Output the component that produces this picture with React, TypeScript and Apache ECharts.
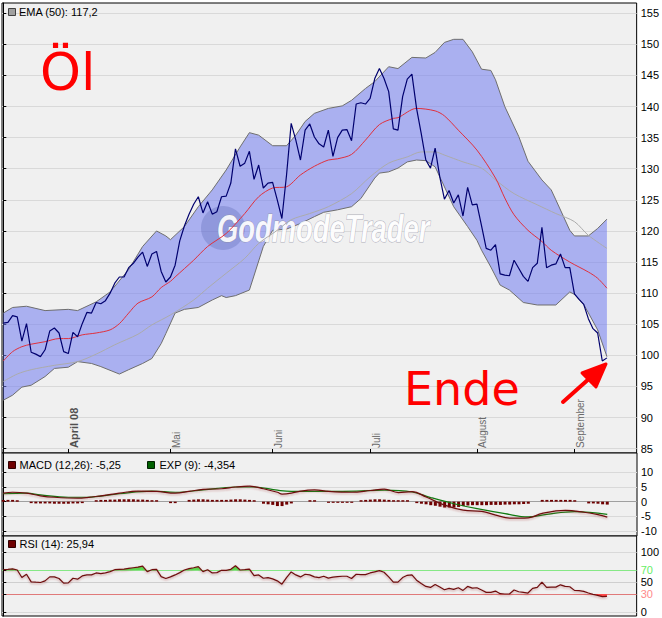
import React, { useEffect, useRef } from 'react';
import * as echarts from 'echarts';

// ---- data ----
const closeValues = [
  105.2, 105.3, 106.4, 106.2, 102.3, 105.1, 100.5, 100.2, 99.8, 100.9,
  103.9, 104.4, 103.6, 100.6, 100.3, 103.7, 103.0, 105.1, 106.9, 106.8,
  108.5, 108.3, 108.8, 110.0, 111.6, 112.6, 112.6, 114.1, 114.8, 115.8,
  116.6, 114.3, 116.3, 116.7, 113.5, 111.8, 112.6, 114.5, 118.4, 120.8,
  122.7, 124.3, 125.5, 122.9, 124.7, 122.7, 123.1, 125.5, 125.6, 127.7,
  133.2, 130.4, 130.9, 132.8, 128.3, 130.6, 126.9, 127.7, 127.8, 125.0,
  122.0, 129.0, 137.3, 134.6, 131.4, 136.2, 137.2, 135.1, 134.0, 133.5,
  136.2, 132.0, 135.0, 136.2, 136.3, 134.5, 140.4, 140.6, 140.4, 141.3,
  144.5, 146.1, 144.5, 142.4, 136.4, 136.2, 141.6, 144.4, 145.2, 139.7,
  135.7, 131.4, 130.1, 133.3, 128.7, 125.1, 126.5, 124.5, 125.8, 122.4,
  127.0, 124.2, 124.3, 120.8, 117.2, 116.9, 117.8, 113.1, 112.9, 112.8,
  115.3, 114.0, 112.7, 111.9, 114.1, 114.8, 120.6, 114.1, 114.5, 114.7,
  116.3, 114.1, 114.1, 109.9, 109.0, 108.2, 105.9, 104.3, 103.6, 99.1,
  99.6,
];

const upperBand = [
  [0, 106.8], [2, 107.7], [5, 107.9], [9, 107.2], [14, 107.4], [16, 107.2], [20, 108.6], [23, 110.2],
  [27, 113.8], [30, 117.5], [33, 120.0], [35, 119.2], [36, 118.6], [39, 120.7], [42, 123.9], [45, 126.6],
  [48, 129.8], [51, 133.5], [53, 135.8], [55, 135.4], [58, 133.7], [61, 133.7], [63, 135.4], [65, 137.6],
  [67, 138.9], [70, 139.7], [73, 140.1], [75, 141.0], [78, 142.9], [80, 144.0], [83, 146.4], [85, 146.1],
  [88, 147.9], [91, 147.8], [93, 148.7], [95, 150.3], [97, 150.8], [99, 150.8], [101, 148.8], [103, 146.0],
  [105, 145.8], [106, 144.3], [108, 140.0], [111, 135.2], [113, 131.2], [116, 128.2], [118, 126.6], [119, 125.0],
  [122, 120.1], [123, 119.2], [126, 119.2], [128, 120.4], [130, 121.9],
];

const lowerBand = [
  [0, 92.8], [2, 93.6], [4, 94.9], [6, 95.2], [9, 96.6], [11, 97.9], [14, 98.1], [16, 99.0], [19, 98.7],
  [21, 98.2], [25, 97.0], [27, 97.7], [30, 98.7], [32, 99.5], [34, 101.9], [35, 103.5], [37, 106.8],
  [39, 107.4], [42, 107.7], [45, 108.9], [47, 109.6], [48, 109.3], [50, 109.6], [53, 110.5], [56, 117.5],
  [58, 120.1], [61, 120.3], [64, 121.2], [67, 122.3], [69, 123.0], [72, 123.4], [75, 123.9], [77, 125.2],
  [80, 128.5], [81, 129.3], [83, 129.5], [85, 130.1], [87, 131.1], [89, 131.4], [91, 131.3], [93, 130.3],
  [94, 128.7], [97, 123.9], [100, 120.7], [102, 118.5], [103, 116.9], [105, 114.2], [107, 111.3], [109, 110.5],
  [112, 108.5], [115, 108.1], [119, 108.1], [122, 110.2], [123, 109.8], [125, 108.2], [128, 104.1], [130, 99.8],
];

const middleLine = [
  [0, 99.1], [2, 100.6], [4, 101.4], [6, 101.8], [9, 102.2], [12, 102.7], [14, 102.7], [17, 103.3],
  [20, 103.6], [23, 104.1], [25, 105.1], [27, 106.8], [29, 108.4], [32, 109.4], [34, 110.9], [36, 111.9],
  [37, 112.6], [41, 115.3], [44, 117.5], [48, 119.6], [52, 122.8], [55, 125.5], [58, 126.9], [61, 127.1],
  [64, 129.0], [67, 130.4], [70, 131.4], [72, 131.6], [75, 132.3], [78, 134.6], [81, 137.1], [84, 138.1],
  [85, 138.2], [89, 139.7], [93, 139.3], [95, 138.5], [98, 136.2], [102, 133.0], [106, 128.5], [108, 125.3],
  [110, 122.6], [113, 120.1], [116, 118.3], [118, 116.9], [122, 115.0], [126, 113.4], [128, 112.4], [130, 110.8],
];

const ema50Line = [
  [0, 95.8], [3, 97.0], [6, 97.7], [11, 98.4], [16, 99.0], [20, 100.2], [24, 101.7], [29, 103.4],
  [32, 104.9], [36, 106.5], [41, 108.9], [44, 110.8], [48, 113.2], [52, 115.6], [55, 118.0], [59, 120.1],
  [62, 121.8], [66, 122.8], [70, 123.9], [75, 126.0], [79, 128.7], [83, 130.9], [87, 131.9], [90, 132.7],
  [93, 132.7], [95, 132.2], [99, 131.1], [103, 130.1], [106, 128.2], [110, 126.0], [115, 124.2], [119, 122.8],
  [123, 121.5], [126, 119.3], [130, 117.2],
];

const macdLine = [
  [0, 2.9], [2, 3.2], [5, 2.9], [8, 2.0], [11, 1.5], [16, 1.2], [18, 1.4], [21, 2.0], [25, 2.9], [29, 3.6],
  [33, 3.5], [37, 2.9], [40, 3.5], [43, 4.2], [47, 4.4], [50, 5.0], [53, 5.3], [56, 4.4], [59, 3.2], [60, 2.6],
  [62, 2.9], [64, 3.6], [67, 4.0], [70, 3.5], [75, 3.2], [79, 3.8], [82, 4.3], [85, 3.1], [88, 3.4], [91, 1.6],
  [95, -1.2], [99, -2.9], [103, -3.3], [106, -4.6], [109, -5.6], [113, -5.5], [116, -4.0], [121, -3.0],
  [125, -3.6], [128, -4.4], [130, -5.25],
];

const signalLine = [
  [0, 2.7], [5, 2.9], [8, 2.3], [14, 1.5], [18, 1.5], [25, 2.7], [32, 3.6], [37, 3.2], [43, 4.0], [50, 5.0],
  [54, 5.0], [59, 3.9], [62, 3.5], [70, 3.5], [76, 3.6], [82, 3.9], [88, 3.3], [92, 1.4], [97, -0.7],
  [102, -2.4], [108, -4.1], [113, -5.2], [117, -4.3], [123, -3.4], [130, -4.354],
];

const macdHist = [
  0.6, 0.6, 0.6, 0.5, 0, 0,
  -0.5, -0.6, -0.6, -0.6, -0.6, -0.7, -0.7, -0.7, -0.7, -0.6, -0.6, -0.5,
  0, 0,
  0.5, 0.6, 0.6, 0.7, 0.7, 0.8, 0.8, 0.8, 0.8, 0.7, 0.7, 0.6, 0.5, 0.5,
  0, 0, -0.5, -0.5, 0, 0,
  0.6, 0.7, 0.8, 0.8, 0.7, 0.6, 0.6, 0.6, 0.6, 0.7, 0.8, 0.8, 0.7, 0.6, 0.5,
  0,
  -0.7, -0.9, -1.1, -1.5, -1.5, -1.0, -0.6,
  0, 0, 0, 0.5, 0.5, 0, 0,
  -0.4, -0.4, -0.4, -0.4, -0.4, -0.4,
  0,
  0.5, 0.6, 0.7, 0.8, 0.8, 0.7, 0.6, 0.5, 0.5, 0.5, 0.5,
  0,
  -0.5, -0.7, -0.9, -1.2, -1.4, -1.7, -2.0, -2.0, -2.0, -1.8, -1.5, -1.3,
  -1.2, -1.2, -1.2, -1.2, -1.1, -1.1, -1.1, -1.0, -1.0, -0.9, -0.9, -0.8, -0.7,
  0, 0,
  0.6, 0.6, 0.6, 0.6, 0.6, 0.6, 0.6, 0.5,
  0, 0,
  -0.6, -0.6, -0.7, -0.9, -1.0,
];

const rsiValues = [
  70.5, 71, 72, 70, 57.4, 62.9, 50.3, 49.7, 49.2, 51.9,
  58.5, 58.5, 55.8, 48.1, 48.6, 56.3, 54.7, 60.1, 61.8, 61.8,
  65.1, 64, 65.1, 67.3, 70.5, 71.1, 71.6, 72.7, 73.8, 74.9,
  76.6, 67.3, 70.5, 71.1, 59, 55.8, 58.5, 61.8, 65.6, 70,
  72.2, 73.8, 75.5, 67.3, 70.5, 65.1, 65.6, 69.5, 69.5, 71.1,
  77.1, 70, 70.5, 71.6, 60.7, 61.8, 56.3, 57.4, 55.2, 51.9,
  46.4, 57.4, 66.7, 61.8, 58.5, 62.9, 61.8, 58.5, 57.4, 59.6,
  56.5, 58, 59, 59.6, 59.6, 55.8, 62.9, 62.3, 62.3, 65.1,
  67, 68.9, 66.2, 58.5, 49.7, 49.7, 57.4, 61.2, 61.8, 53,
  47.5, 42.6, 41, 45.9, 41.5, 37.1, 39.3, 37.7, 40.4, 36,
  42.6, 39.9, 40.4, 36.6, 32.7, 32.7, 34.9, 30.5, 30, 30,
  36.6, 33.8, 32.7, 31.6, 39.3, 41, 49.7, 41, 41.5, 41.5,
  45.3, 42.6, 42.1, 36, 35.5, 34.4, 31.6, 29.5, 27.8, 25.6,
  25.9,
];

const priceTicks = [85, 90, 95, 100, 105, 110, 115, 120, 125, 130, 135, 140, 145, 150, 155];
const macdTicks = [-10, -5, 0, 5, 10];
const rsiTicks = [0, 30, 50, 70, 100];
const rsiUpperLevel = 70;
const rsiLowerLevel = 30;
const monthTicks = [14, 36, 58, 79, 102, 123];
const monthLabels = ['April 08', 'Mai', 'Juni', 'Juli', 'August', 'September'];

const FONT = '"Liberation Sans", Arial, sans-serif';
const X_MIN = -0.28;
const X_MAX = 136.4;

// points of the RSI line clipped to one side of a level (with exact crossing points)
function clippedRsi(level: number, above: boolean): number[][] {
  const pts: number[][] = [[0, level]];
  const n = rsiValues.length;
  for (let i = 0; i < n; i++) {
    const a = rsiValues[i];
    pts.push([i, above ? Math.max(a, level) : Math.min(a, level)]);
    if (i < n - 1) {
      const b = rsiValues[i + 1];
      if ((a - level) * (b - level) < 0) {
        pts.push([i + (level - a) / (b - a), level]);
      }
    }
  }
  pts.push([n - 1, level]);
  return pts;
}

export default function App() {
  const ref = useRef<HTMLDivElement>(null);

  useEffect(() => {
    document.body.style.margin = '0';
    const chart = echarts.init(ref.current as HTMLDivElement, null, { renderer: 'svg' });

    const closeData = closeValues.map((v, i) => [i, v]);
    const rsiData = rsiValues.map((v, i) => [i, v]);
    const histData = macdHist.map((v, i) => [i, v]);
    const overbought = clippedRsi(rsiUpperLevel, true);
    const oversold = clippedRsi(rsiLowerLevel, false);
    const monthLabelPos = monthTicks.map((t) => t + 1.3);

    const gridBox = { show: true, backgroundColor: '#f0f0f0', borderColor: '#000', borderWidth: 1 };
    const hiddenX = (gi: number) => ({
      gridIndex: gi, type: 'value', min: X_MIN, max: X_MAX, show: false,
      splitLine: { show: false },
    });
    const rightY = (gi: number, min: number, max: number, ticks: number[], splitColors: any, labelColor: any) => ({
      gridIndex: gi,
      type: 'value',
      position: 'right',
      min,
      max,
      axisLine: { show: true, lineStyle: { color: '#000', width: 1 } },
      axisTick: { show: true, length: 3, customValues: ticks, lineStyle: { color: '#000' } },
      axisLabel: { customValues: ticks, color: labelColor, fontSize: 11, margin: 4, fontFamily: FONT },
      splitLine: { show: true, lineStyle: { color: splitColors, width: 1 } },
    });

    const lineBase = {
      type: 'line',
      showSymbol: false,
      symbol: 'none',
      silent: true,
    };

    const option: any = {
      animation: false,
      backgroundColor: '#ffffff',
      textStyle: { fontFamily: FONT },
      grid: [
        { left: 2, right: 25, top: 3, height: 450, ...gridBox },
        { left: 2, right: 25, top: 453, height: 83, ...gridBox },
        { left: 2, right: 25, top: 536, height: 80, ...gridBox },
      ],
      xAxis: [
        {
          gridIndex: 0,
          type: 'value',
          min: X_MIN,
          max: X_MAX,
          axisLine: { show: false },
          splitLine: { show: false },
          axisTick: { show: true, inside: true, length: 4, customValues: monthTicks, lineStyle: { color: '#000' } },
          axisLabel: {
            show: true,
            inside: true,
            rotate: 90,
            margin: 5,
            customValues: monthLabelPos,
            color: '#6a6a6a',
            fontSize: 10,
            formatter: (v: number) => {
              const i = monthLabelPos.findIndex((p) => Math.abs(p - v) < 1e-6);
              if (i < 0) return '';
              return i === 0 ? '{b|' + monthLabels[i] + '}' : monthLabels[i];
            },
            rich: { b: { fontWeight: 'bold', fontSize: 11, color: '#505050', fontFamily: FONT } },
          },
        },
        hiddenX(1),
        hiddenX(2),
      ],
      yAxis: [
        rightY(0, 84.31, 156.64, priceTicks, '#d9d9d9', '#000'),
        rightY(1, -11.7, 16.58, macdTicks, ['#d9d9d9', '#d9d9d9', '#a0a0a0', '#d9d9d9', '#d9d9d9'], '#000'),
        rightY(2, -6.67, 126.67, rsiTicks, ['#d9d9d9', '#e07a7a', '#cfcfcf', '#86e886', '#d9d9d9'],
          (v: any) => (Number(v) === 70 ? '#66ee66' : Number(v) === 30 ? '#ff8a8a' : '#000')),
      ],
      graphic: [
        // watermark
        {
          type: 'circle', z: 3, silent: true,
          shape: { cx: 223, cy: 228, r: 22 },
          style: { fill: 'rgba(80,88,170,0.28)' },
        },
        {
          type: 'text', z: 3, silent: true, x: 217, y: 229, scaleX: 0.72,
          style: {
            text: 'GodmodeTrader', fill: 'rgba(255,255,255,0.92)', fontSize: 38, fontWeight: 'bold',
            fontStyle: 'italic', fontFamily: FONT, verticalAlign: 'middle', align: 'left',
            stroke: 'rgba(140,140,160,0.7)', lineWidth: 1,
            shadowColor: 'rgba(0,0,0,0.35)', shadowOffsetX: 2, shadowOffsetY: 2, shadowBlur: 2,
          },
        },
        // legends
        { type: 'rect', z: 10, shape: { x: 8.5, y: 8.5, width: 7, height: 7 }, style: { fill: '#a0a0a0', stroke: '#404040', lineWidth: 1 } },
        { type: 'text', z: 10, x: 19, y: 12, style: { text: 'EMA (50): 117,2', fill: '#000', fontSize: 11, fontFamily: FONT, verticalAlign: 'middle' } },
        { type: 'rect', z: 10, shape: { x: 8.5, y: 461.5, width: 7, height: 7 }, style: { fill: '#6e0000', stroke: '#300000', lineWidth: 1 } },
        { type: 'text', z: 10, x: 19.5, y: 465, style: { text: 'MACD (12,26): -5,25', fill: '#000', fontSize: 11, fontFamily: FONT, verticalAlign: 'middle' } },
        { type: 'rect', z: 10, shape: { x: 147.5, y: 461.5, width: 7, height: 7 }, style: { fill: '#006000', stroke: '#002000', lineWidth: 1 } },
        { type: 'text', z: 10, x: 159.5, y: 465, style: { text: 'EXP (9): -4,354', fill: '#000', fontSize: 11, fontFamily: FONT, verticalAlign: 'middle' } },
        { type: 'rect', z: 10, shape: { x: 8.5, y: 540.5, width: 7, height: 7 }, style: { fill: '#6e0000', stroke: '#300000', lineWidth: 1 } },
        { type: 'text', z: 10, x: 19.5, y: 544, style: { text: 'RSI (14): 25,94', fill: '#000', fontSize: 11, fontFamily: FONT, verticalAlign: 'middle' } },
        // hand-written annotations
        { type: 'text', z: 20, x: 40, y: 72, style: { text: 'Öl', fill: '#ff0000', fontSize: 52, fontFamily: '"DejaVu Sans", sans-serif', verticalAlign: 'middle' } },
        { type: 'text', z: 20, x: 404, y: 389, style: { text: 'Ende', fill: '#ff0000', fontSize: 46, fontFamily: '"DejaVu Sans", sans-serif', verticalAlign: 'middle' } },
        { type: 'polyline', z: 20, shape: { points: [[563, 402], [600, 369]] }, style: { stroke: '#ff0000', lineWidth: 4, lineCap: 'round' } },
        { type: 'polygon', z: 20, shape: { points: [[582, 373], [606, 364], [596, 387]] }, style: { fill: '#ff0000', stroke: '#ff0000', lineWidth: 3, lineJoin: 'round' } },
      ],
      series: [
        // Bollinger band fill
        {
          type: 'custom',
          xAxisIndex: 0,
          yAxisIndex: 0,
          z: 1,
          silent: true,
          clip: true,
          data: [[0, 100]],
          renderItem: (_params: any, api: any) => {
            const pts = upperBand.map((p) => api.coord(p)).concat(
              lowerBand.slice().reverse().map((p) => api.coord(p)),
            );
            return { type: 'polygon', shape: { points: pts }, style: { fill: 'rgba(113,124,240,0.55)' } };
          },
        },
        { ...lineBase, name: 'upper', xAxisIndex: 0, yAxisIndex: 0, z: 2, data: upperBand, lineStyle: { color: '#6e6e6e', width: 1 } },
        { ...lineBase, name: 'lower', xAxisIndex: 0, yAxisIndex: 0, z: 2, data: lowerBand, lineStyle: { color: '#6e6e6e', width: 1 } },
        { ...lineBase, name: 'EMA (50)', xAxisIndex: 0, yAxisIndex: 0, z: 4, data: ema50Line, smooth: 0.3, lineStyle: { color: '#ababab', width: 1 } },
        { ...lineBase, name: 'middle', xAxisIndex: 0, yAxisIndex: 0, z: 4, data: middleLine, smooth: 0.3, lineStyle: { color: '#e0303c', width: 1 } },
        { ...lineBase, name: 'close', xAxisIndex: 0, yAxisIndex: 0, z: 5, data: closeData, lineStyle: { color: '#00006e', width: 1.2 } },
        // MACD
        {
          type: 'bar', name: 'hist', xAxisIndex: 1, yAxisIndex: 1, z: 3, silent: true,
          data: histData, barWidth: 3, itemStyle: { color: '#6e0000' },
        },
        {
          ...lineBase, name: 'EXP (9)', xAxisIndex: 1, yAxisIndex: 1, z: 4, data: signalLine, smooth: 0.4,
          lineStyle: { color: '#117a11', width: 1.2 },
        },
        {
          ...lineBase, name: 'MACD', xAxisIndex: 1, yAxisIndex: 1, z: 5, data: macdLine, smooth: 0.4,
          lineStyle: { color: '#6e1010', width: 1.2, shadowColor: 'rgba(150,40,40,0.45)', shadowBlur: 2, shadowOffsetY: 1 },
        },
        // RSI overbought / oversold fills
        {
          type: 'custom',
          xAxisIndex: 2,
          yAxisIndex: 2,
          z: 3,
          silent: true,
          data: [[0, 50]],
          renderItem: (_params: any, api: any) => ({
            type: 'group',
            children: [
              { type: 'polygon', shape: { points: overbought.map((p) => api.coord(p)) }, style: { fill: '#55f055' } },
              { type: 'polygon', shape: { points: oversold.map((p) => api.coord(p)) }, style: { fill: '#ff4a4a' } },
            ],
          }),
        },
        {
          ...lineBase, name: 'RSI (14)', xAxisIndex: 2, yAxisIndex: 2, z: 5, data: rsiData,
          lineStyle: { color: '#6e1010', width: 1.2, shadowColor: 'rgba(150,40,40,0.45)', shadowBlur: 2, shadowOffsetY: 1 },
        },
      ],
    };

    chart.setOption(option);
    return () => chart.dispose();
  }, []);

  return <div ref={ref} style={{ width: 662, height: 618 }} />;
}
